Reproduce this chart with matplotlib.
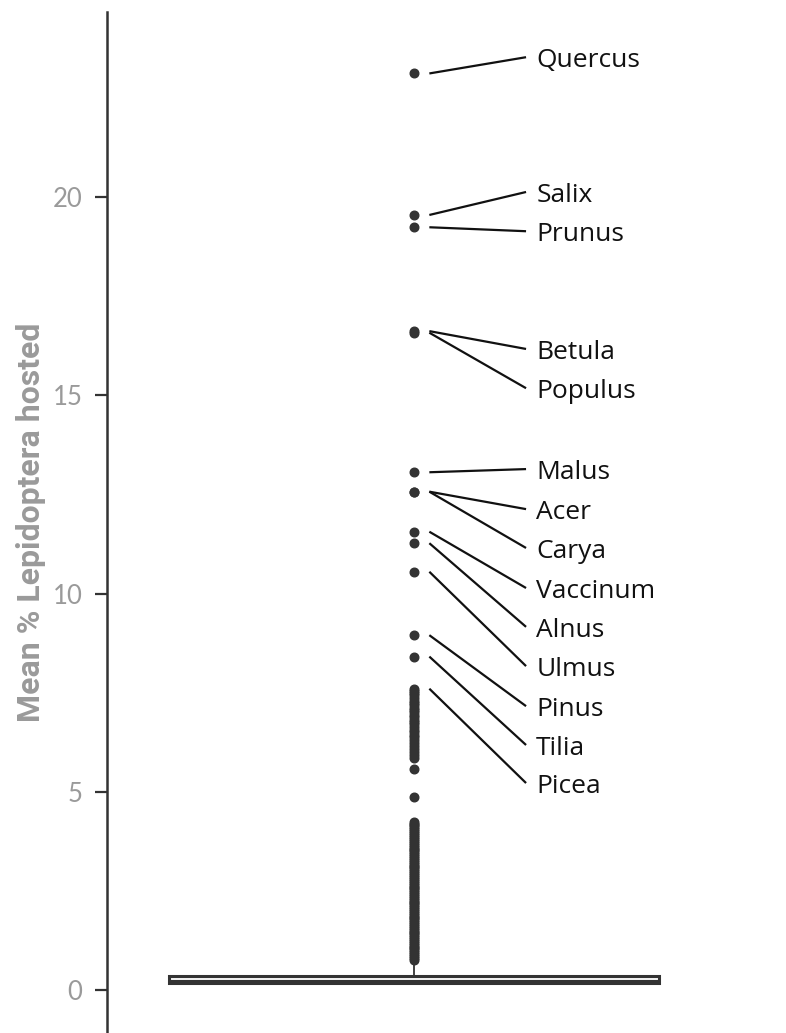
import matplotlib
matplotlib.use("Agg")
import matplotlib.pyplot as plt

# ---------------- data ----------------
# box summary for the whole set of genera
box_q1 = 0.17
box_median = 0.22
box_q3 = 0.36
whisker_low = 0.17
whisker_high = 0.62

# named outliers (genus, mean % hosted)
genera = ["Quercus", "Salix", "Prunus", "Betula", "Populus", "Malus", "Acer",
          "Carya", "Vaccinum", "Alnus", "Ulmus", "Pinus", "Tilia", "Picea"]
genus_values = [23.12, 19.55, 19.24, 16.62, 16.58, 13.06, 12.57,
                12.57, 11.56, 11.27, 10.55, 8.95, 8.41, 7.60]

# unnamed outliers
other_outliers = [
    7.55, 7.50, 7.43, 7.37, 7.30, 7.24, 7.18, 7.12, 7.06, 7.00, 6.94, 6.88,
    6.82, 6.76, 6.70, 6.63, 6.57, 6.50, 6.44, 6.38, 6.30, 6.22, 6.15, 6.08,
    6.00, 5.93, 5.86, 5.57, 4.88,
    4.24, 4.19, 4.15, 4.10, 4.05, 4.01, 3.96, 3.90, 3.85, 3.80, 3.76, 3.71,
    3.66, 3.61, 3.56, 3.52, 3.47, 3.42, 3.37, 3.33, 3.28, 3.23, 3.18, 3.14,
    3.09, 3.04, 2.99, 2.95, 2.90, 2.85, 2.80, 2.76, 2.71, 2.66, 2.61, 2.57,
    2.52, 2.47, 2.42, 2.38, 2.33, 2.28, 2.23, 2.19, 2.14, 2.09, 2.04, 2.00,
    1.95, 1.90, 1.85, 1.81, 1.76, 1.71, 1.66, 1.62, 1.57, 1.52, 1.47, 1.43,
    1.38, 1.33, 1.28, 1.24, 1.19, 1.14, 1.09, 1.05, 1.00, 0.95, 0.90, 0.86,
    0.81, 0.76,
]

# where each label sits on the y scale
label_y = [23.53, 20.13, 19.14, 16.17, 15.18, 13.14, 12.13,
           11.15, 10.14, 9.16, 8.17, 7.16, 6.18, 5.22]

yticks = [0, 5, 10, 15, 20]
ylabel = "Mean % Lepidoptera hosted"

# ---------------- figure ----------------
plt.rcParams['font.family'] = ['Open Sans', 'DejaVu Sans']

fig = plt.figure(figsize=(7.86, 10.33), dpi=100)
ax = fig.add_axes([107 / 786, 0.0, 614 / 786, 1021 / 1033])

stats = [{
    "med": box_median, "q1": box_q1, "q3": box_q3,
    "whislo": whisker_low, "whishi": whisker_high,
    "fliers": other_outliers + genus_values,
}]
ax.bxp(stats, positions=[1], widths=1.596, showcaps=False, patch_artist=True,
       boxprops=dict(facecolor="#f4f4f4", edgecolor="#333333", linewidth=2.2),
       medianprops=dict(color="#333333", linewidth=2.2),
       whiskerprops=dict(color="#333333", linewidth=1.3),
       flierprops=dict(marker="o", markersize=6.2, markerfacecolor="#333333",
                       markeredgecolor="#333333", linestyle="none"))

ax.set_xlim(0, 2)
ax.set_ylim(-1.085, 24.67)

# leader lines and genus names
for name, v, ly in zip(genera, genus_values, label_y):
    ax.plot([1.05, 1.365], [v, ly], color="#111111", lw=1.6,
            solid_capstyle="butt", clip_on=False)
    ax.text(1.398, ly - 0.08, name, ha="left", va="center", fontsize=19,
            color="#111111", clip_on=False)

for s in ["top", "right", "bottom"]:
    ax.spines[s].set_visible(False)
ax.spines["left"].set_color("#333333")
ax.spines["left"].set_linewidth(1.8)

ax.set_xticks([])
ax.set_yticks(yticks)
ax.tick_params(axis="y", direction="out", length=8.6, width=1.6,
               color="#333333", pad=9, labelsize=18.5, labelcolor="#9a9a9a")
for t in ax.get_yticklabels():
    t.set_family(["Lato", "DejaVu Sans"])

ax.set_ylabel(ylabel, fontsize=23, fontweight="bold", color="#9a9a9a",
              family=["Roboto", "DejaVu Sans"], labelpad=5)

fig.savefig("out.png", dpi=100)
